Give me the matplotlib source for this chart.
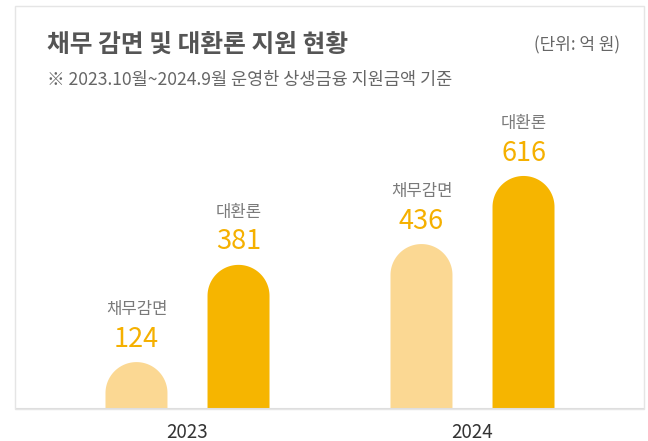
import matplotlib
matplotlib.use("Agg")
import matplotlib.pyplot as plt
import numpy as np
from matplotlib.patches import PathPatch, Rectangle
from matplotlib.path import Path

plt.rcParams["font.family"] = ["Noto Sans CJK KR", "DejaVu Sans"]

# data (억 원)
years = ["2023", "2024"]
series_names = ["채무감면", "대환론"]
debt_relief = [124, 436]
refinance = [381, 616]

TITLE = "채무 감면 및 대환론 지원 현황"
SUBTITLE = "※ 2023.10월~2024.9월 운영한 상생금융 지원금액 기준"
UNIT = "(단위: 억 원)"

LIGHT = "#FBD893"
DARK = "#F6B500"
VALUE_COLOR = "#F5B000"
NAME_COLOR = "#7A7A7A"
TITLE_COLOR = "#555555"

W, H, DPI = 648, 441, 100
BASE_Y = 409          # baseline in pixels from top
AX_TOP = 95
AX_LEFT, AX_RIGHT = 15, 644
GROUP_GAP = 285.0     # px between group centers
OFFSET = 0.179
BAR_W = 0.2175
Y_MAX = 830


def rounded_bar(ax, x, h, w, color):
    # rectangle with a semicircular cap that stays circular on screen
    sx = ax.bbox.width / np.diff(ax.get_xlim())[0]
    sy = ax.bbox.height / np.diff(ax.get_ylim())[0]
    r_px = w * sx / 2
    ry = r_px / sy
    x0, x1 = x - w / 2, x + w / 2
    ystart = max(h - ry, 0)
    theta = np.linspace(0, np.pi, 60)
    cap_x = x + (w / 2) * np.cos(theta)
    cap_y = ystart + ry * np.sin(theta)
    if h < ry:
        cap_y = np.minimum(cap_y, h)
    verts = [(x0, 0), (x1, 0), (x1, ystart)]
    verts += list(zip(cap_x, cap_y))
    verts += [(x0, ystart), (x0, 0)]
    codes = [Path.MOVETO] + [Path.LINETO] * (len(verts) - 2) + [Path.CLOSEPOLY]
    ax.add_patch(PathPatch(Path(verts, codes), facecolor=color, edgecolor="none"))


fig = plt.figure(figsize=(W / DPI, H / DPI), dpi=DPI)
fig.patch.set_facecolor("white")

# outer frame
fig.patches.append(Rectangle((AX_LEFT / W, 1 - BASE_Y / H), (AX_RIGHT - AX_LEFT) / W,
                             (BASE_Y - 6) / H, transform=fig.transFigure,
                             facecolor="none", edgecolor="#E5E5E5", linewidth=1.0))

ax = fig.add_axes([AX_LEFT / W, 1 - BASE_Y / H, (AX_RIGHT - AX_LEFT) / W, (BASE_Y - AX_TOP) / H])
g0 = 187.5
ax.set_xlim(-(g0 - AX_LEFT) / GROUP_GAP, (AX_RIGHT - g0) / GROUP_GAP)
ax.set_ylim(0, Y_MAX)
ax.patch.set_alpha(0)
for s in ax.spines.values():
    s.set_visible(False)
ax.set_yticks([])
xs = np.arange(len(years))
ax.set_xticks(xs)
ax.set_xticklabels(years, fontsize=13.5, color="#333333")
ax.tick_params(axis="x", length=0, pad=9)

for values, color, name, off in [(debt_relief, LIGHT, series_names[0], -OFFSET),
                                 (refinance, DARK, series_names[1], OFFSET)]:
    for xi, v in zip(xs, values):
        bx = xi + off
        rounded_bar(ax, bx, v, BAR_W, color)
        ax.annotate(str(v), (bx, v), xytext=(0, 16.5), textcoords="offset points",
                    ha="center", va="center", fontsize=19.5, color=VALUE_COLOR)
        ax.annotate(name, (bx, v), xytext=(0, 38), textcoords="offset points",
                    ha="center", va="center", fontsize=12, color=NAME_COLOR)

# bottom rule
ax.axhline(0, color="#DDDDDD", linewidth=1.5)

fig.text(47 / W, 1 - 45 / H, TITLE, fontsize=17.8, fontweight="bold", color=TITLE_COLOR,
         ha="left", va="center")
fig.text(47 / W, 1 - 80 / H, SUBTITLE, fontsize=12.6, color="#666666", ha="left", va="center")
fig.text(620 / W, 1 - 45 / H, UNIT, fontsize=12.2, color="#666666", ha="right", va="center")

fig.savefig("out.png", dpi=DPI)
